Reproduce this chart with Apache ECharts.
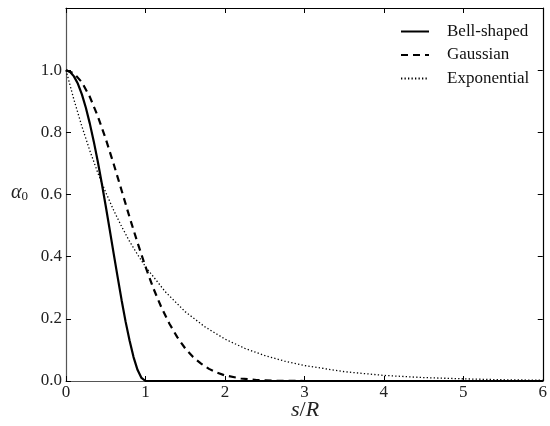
<!DOCTYPE html>
<html><head><meta charset="utf-8">
<script src="https://cdn.jsdelivr.net/npm/echarts@6/dist/echarts.min.js"></script>
<style>html,body{margin:0;padding:0;background:#fff}#c{width:550px;height:426px}</style>
</head><body><div id="c"></div>
<script>
// Values
const seriesNames = ['Bell-shaped', 'Gaussian', 'Exponential'];
const bellS = [0,0.05,0.1,0.15,0.2,0.25,0.3,0.35,0.4,0.45,0.5,0.55,0.6,0.65,0.7,0.75,0.8,0.85,0.9,0.95,1.0,6.0];
const bellA = [1.000,0.995,0.980,0.956,0.922,0.879,0.828,0.770,0.706,0.636,0.563,0.487,0.410,0.334,0.260,0.191,0.130,0.077,0.036,0.010,0.000,0.000];
const gaussS = [0,0.1,0.2,0.3,0.4,0.5,0.6,0.7,0.8,0.9,1.0,1.1,1.2,1.3,1.4,1.5,1.6,1.7,1.8,1.9,2.0,2.2,2.4,2.6,3.0,6.0];
const gaussA = [1.000,0.990,0.961,0.914,0.852,0.779,0.698,0.613,0.527,0.445,0.368,0.298,0.237,0.185,0.141,0.105,0.077,0.056,0.039,0.027,0.018,0.008,0.003,0.001,0.000,0.000];
const expS = [0,0.1,0.2,0.3,0.4,0.5,0.6,0.7,0.8,0.9,1.0,1.25,1.5,1.75,2.0,2.25,2.5,2.75,3.0,3.5,4.0,4.5,5.0,5.5,6.0];
const expA = [1.000,0.905,0.819,0.741,0.670,0.607,0.549,0.497,0.449,0.407,0.368,0.287,0.223,0.174,0.135,0.105,0.082,0.064,0.050,0.030,0.018,0.011,0.007,0.004,0.0025];
const xTicks = [0,1,2,3,4,5,6];
const yTicks = [0.0,0.2,0.4,0.6,0.8,1.0];

const FONT = 'Liberation Serif';
const zip = (a,b) => a.map((v,i)=>[v,b[i]]);
const chart = echarts.init(document.getElementById('c'), null, {renderer:'canvas'});
const tickFmtY = v => (v > 1.05 ? '' : v.toFixed(1));
const baseAxis = {
  axisTick:{show:true, inside:true, length:5, lineStyle:{color:'#000', width:1}},
  splitLine:{show:false}
};
chart.setOption({
  animation:false,
  backgroundColor:'#fff',
  grid:{left:66, right:4, top:8, bottom:45, containLabel:false},
  legend:{
    orient:'vertical', left:395, top:18, itemWidth:28, itemHeight:14, itemGap:6.5,
    data:seriesNames,
    itemStyle:{opacity:0},
    textStyle:{fontFamily:FONT, fontSize:17, color:'#111', padding:[0,0,0,13]}
  },
  xAxis:[
    Object.assign({}, baseAxis, {type:'value', min:0, max:6, interval:1, position:'bottom',
      axisLine:{show:true, onZero:false, lineStyle:{color:'#555', width:1.2}},
      axisLabel:{fontFamily:FONT, fontSize:17, color:'#222', margin:3}}),
    Object.assign({}, baseAxis, {type:'value', min:0, max:6, interval:1, position:'top',
      axisLine:{show:true, onZero:false, lineStyle:{color:'#000', width:1.2}},
      axisLabel:{show:false}})
  ],
  yAxis:[
    Object.assign({}, baseAxis, {type:'value', min:0, max:1.2, interval:0.2, position:'left',
      axisLine:{show:true, onZero:false, lineStyle:{color:'#555', width:1.2}},
      axisLabel:{fontFamily:FONT, fontSize:17, color:'#222', margin:4, formatter:tickFmtY}}),
    Object.assign({}, baseAxis, {type:'value', min:0, max:1.2, interval:0.2, position:'right',
      axisLine:{show:true, onZero:false, lineStyle:{color:'#000', width:1.2}},
      axisLabel:{show:false}})
  ],
  graphic:[
    {type:'text', left:11, top:183, style:{
      text:'{a|α}{s|0}', rich:{
        a:{fontFamily:FONT, fontStyle:'italic', fontSize:20, fill:'#222'},
        s:{fontFamily:FONT, fontSize:13, fill:'#222', verticalAlign:'bottom', padding:[8,0,0,0]}
      }}},
    {type:'text', left:291, top:399, style:{
      text:'{i|s}{n|/}{i|R}', rich:{
        i:{fontFamily:FONT, fontStyle:'italic', fontSize:22, fill:'#222'},
        n:{fontFamily:FONT, fontSize:22, fill:'#222'}
      }}}
  ],
  series:[
    {name:seriesNames[0], type:'line', data:zip(bellS,bellA), showSymbol:false, symbol:'none', smooth:false,
      lineStyle:{color:'#000', width:2.2, type:'solid'}, itemStyle:{color:'#000'}},
    {name:seriesNames[1], type:'line', data:zip(gaussS,gaussA), showSymbol:false, symbol:'none', smooth:false,
      lineStyle:{color:'#000', width:2.2, type:[7,5]}, itemStyle:{color:'#000'}},
    {name:seriesNames[2], type:'line', data:zip(expS,expA), showSymbol:false, symbol:'none', smooth:false,
      lineStyle:{color:'#000', width:1.3, type:[1.3,2.2]}, itemStyle:{color:'#000'}}
  ]
});
</script></body></html>
